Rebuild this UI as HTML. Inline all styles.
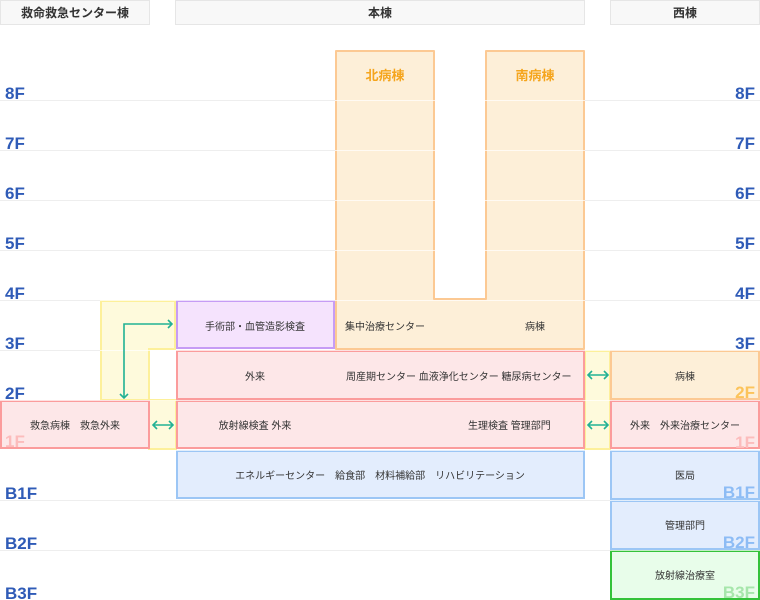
<!DOCTYPE html>
<html><head><meta charset="utf-8"><style>
html,body{margin:0;padding:0;background:#fff;}
svg{display:block;font-family:"Liberation Sans","Noto Sans CJK JP",sans-serif;}
.t{font-size:10px;fill:#333;}
.fl{font-size:17px;font-weight:bold;fill:#2f5bb7;}
</style></head><body>
<svg width="760" height="600" viewBox="0 0 760 600">
<!-- headers -->
<rect x="0.5" y="0.5" width="149" height="24" fill="#f8f8f8" stroke="#e6e6e6"/>
<rect x="175.5" y="0.5" width="409" height="24" fill="#f8f8f8" stroke="#e6e6e6"/>
<rect x="610.5" y="0.5" width="149" height="24" fill="#f8f8f8" stroke="#e6e6e6"/>
<text x="75" y="17" text-anchor="middle" font-size="12" font-weight="bold" fill="#333">救命救急センター棟</text>
<text x="380" y="17" text-anchor="middle" font-size="12" font-weight="bold" fill="#333">本棟</text>
<text x="685" y="17" text-anchor="middle" font-size="12" font-weight="bold" fill="#333">西棟</text>

<!-- yellow connectors -->
<path d="M101,301 H175 V349 H149 V400 H101 Z" fill="#fefadc" stroke="#fdf09a" stroke-width="2"/>
<rect x="149" y="400" width="27" height="49" fill="#fefadc" stroke="#fdf09a" stroke-width="2"/>
<rect x="585" y="351" width="25" height="98" fill="#fefadc" stroke="#fdf09a" stroke-width="2"/>

<!-- main building U -->
<path d="M336,51 H434 V299 H486 V51 H584 V349 H336 Z" fill="#fdefd8" stroke="#fcc993" stroke-width="2" stroke-linejoin="round"/>
<text x="385" y="80" text-anchor="middle" font-size="13" font-weight="bold" fill="#f5a51d">北病棟</text>
<text x="535" y="80" text-anchor="middle" font-size="13" font-weight="bold" fill="#f5a51d">南病棟</text>
<text class="t" x="345" y="330">集中治療センター</text>
<text class="t" x="535" y="330" text-anchor="middle">病棟</text>

<rect x="177" y="301" width="157" height="47" fill="#f5e3fd" stroke="#c69cf5" stroke-width="2"/>
<text class="t" x="255" y="330" text-anchor="middle">手術部・血管造影検査</text>

<rect x="177" y="351" width="407" height="48" fill="#fde7e8" stroke="#fb9c9c" stroke-width="2"/>
<rect x="177" y="401" width="407" height="47" fill="#fde7e8" stroke="#fb9c9c" stroke-width="2"/>
<text class="t" x="255" y="380" text-anchor="middle">外来</text>
<text class="t" x="346" y="380">周産期センター  血液浄化センター  糖尿病センター</text>
<text class="t" x="255" y="429" text-anchor="middle">放射線検査 外来</text>
<text class="t" x="468" y="429">生理検査 管理部門</text>

<rect x="177" y="451" width="407" height="47" fill="#e3edfd" stroke="#9cc6f5" stroke-width="2"/>
<text class="t" x="380" y="479" text-anchor="middle">エネルギーセンター　給食部　材料補給部　リハビリテーション</text>

<!-- emergency -->
<rect x="1" y="401" width="148" height="47" fill="#fde7e8" stroke="#fb9c9c" stroke-width="2"/>
<text x="5" y="447" font-size="17" font-weight="bold" fill="#fcbcbc">1F</text>
<text class="t" x="75" y="429" text-anchor="middle">救急病棟　救急外来</text>

<!-- west -->
<rect x="611" y="351" width="148" height="48" fill="#fdefd8" stroke="#fcc993" stroke-width="2"/>
<rect x="611" y="401" width="148" height="47" fill="#fde7e8" stroke="#fb9c9c" stroke-width="2"/>
<rect x="611" y="451" width="148" height="48" fill="#e3edfd" stroke="#9cc6f5" stroke-width="2"/>
<rect x="611" y="501" width="148" height="48" fill="#e3edfd" stroke="#9cc6f5" stroke-width="2"/>
<rect x="611" y="551" width="148" height="48" fill="#e8fdea" stroke="#34c23a" stroke-width="2"/>
<text class="t" x="685" y="380" text-anchor="middle">病棟</text>
<text class="t" x="685" y="429" text-anchor="middle">外来　外来治療センター</text>
<text class="t" x="685" y="479" text-anchor="middle">医局</text>
<text class="t" x="685" y="529" text-anchor="middle">管理部門</text>
<text class="t" x="685" y="579" text-anchor="middle">放射線治療室</text>
<g font-size="17" font-weight="bold" text-anchor="end">
<text x="755" y="398" fill="#fcc35a">2F</text>
<text x="755" y="448" fill="#fcbcbc">1F</text>
<text x="755" y="498" fill="#8dbcf5">B1F</text>
<text x="755" y="548" fill="#8dbcf5">B2F</text>
<text x="755" y="598" fill="#a6e6ab">B3F</text>
</g>

<!-- floor lines -->
<g stroke="#ffffff" stroke-opacity="0.7" stroke-width="1">
<line x1="0" y1="100.5" x2="760" y2="100.5"/><line x1="0" y1="150.5" x2="760" y2="150.5"/>
<line x1="0" y1="200.5" x2="760" y2="200.5"/><line x1="0" y1="250.5" x2="760" y2="250.5"/>
<line x1="0" y1="300.5" x2="760" y2="300.5"/><line x1="0" y1="350.5" x2="760" y2="350.5"/>
<line x1="0" y1="400.5" x2="760" y2="400.5"/><line x1="0" y1="450.5" x2="760" y2="450.5"/>
<line x1="0" y1="500.5" x2="760" y2="500.5"/><line x1="0" y1="550.5" x2="760" y2="550.5"/>
</g>
<g stroke="#eeeeee" stroke-width="1">
<line x1="0" y1="100.5" x2="335" y2="100.5"/><line x1="585" y1="100.5" x2="760" y2="100.5"/>
<line x1="0" y1="150.5" x2="335" y2="150.5"/><line x1="585" y1="150.5" x2="760" y2="150.5"/>
<line x1="0" y1="200.5" x2="335" y2="200.5"/><line x1="585" y1="200.5" x2="760" y2="200.5"/>
<line x1="0" y1="250.5" x2="335" y2="250.5"/><line x1="585" y1="250.5" x2="760" y2="250.5"/>
<line x1="0" y1="300.5" x2="100" y2="300.5"/><line x1="585" y1="300.5" x2="760" y2="300.5"/>
<line x1="0" y1="350.5" x2="100" y2="350.5"/>
<line x1="0" y1="500.5" x2="610" y2="500.5"/><line x1="0" y1="550.5" x2="610" y2="550.5"/>
</g>

<!-- left floor labels -->
<g class="fl">
<text class="fl" x="5" y="99">8F</text><text class="fl" x="5" y="149">7F</text>
<text class="fl" x="5" y="199">6F</text><text class="fl" x="5" y="249">5F</text>
<text class="fl" x="5" y="299">4F</text><text class="fl" x="5" y="349">3F</text>
<text class="fl" x="5" y="399">2F</text>
<text class="fl" x="5" y="499">B1F</text><text class="fl" x="5" y="549">B2F</text><text class="fl" x="5" y="599">B3F</text>
</g>
<g class="fl" text-anchor="end">
<text class="fl" x="755" y="99">8F</text><text class="fl" x="755" y="149">7F</text>
<text class="fl" x="755" y="199">6F</text><text class="fl" x="755" y="249">5F</text>
<text class="fl" x="755" y="299">4F</text><text class="fl" x="755" y="349">3F</text>
</g>

<!-- arrows -->
<g stroke="#21b194" stroke-width="1.6" fill="none">
<path d="M172,324 H124 V398"/>
<path d="M168,320 L172,324 L168,328"/>
<path d="M120,394 L124,398 L128,394"/>
<path d="M153,425 H173"/><path d="M157,421 L153,425 L157,429"/><path d="M169,421 L173,425 L169,429"/>
<path d="M588,375 H608"/><path d="M592,371 L588,375 L592,379"/><path d="M604,371 L608,375 L604,379"/>
<path d="M588,425 H608"/><path d="M592,421 L588,425 L592,429"/><path d="M604,421 L608,425 L604,429"/>
</g>
</svg>
</body></html>
